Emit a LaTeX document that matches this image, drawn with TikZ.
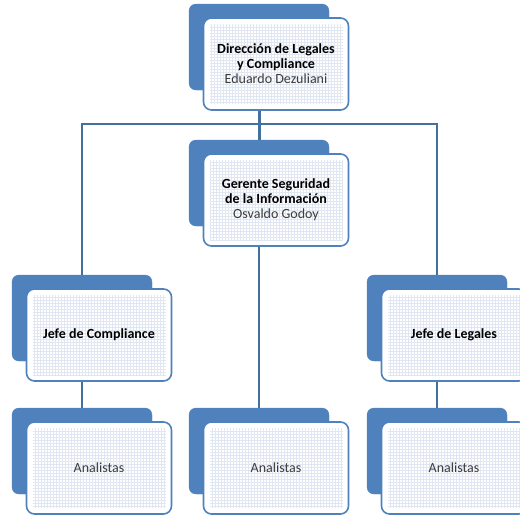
\documentclass[tikz,border=0pt]{standalone}
\usepackage{fontspec}
\setmainfont{Carlito}
\usepackage{tikz}

\definecolor{boxblue}{RGB}{79,129,189}
\definecolor{linkblue}{RGB}{65,113,156}
\definecolor{gridblue}{RGB}{224,231,242}
\definecolor{nametext}{RGB}{60,60,60}

\begin{document}
\begin{tikzpicture}[x=1pt, y=-1pt,
    back/.style={fill=boxblue, draw=boxblue, rounded corners=7pt, minimum width=140pt, minimum height=86pt, inner sep=0pt},
    front/.style={fill=white, draw=boxblue, line width=1.6pt, rounded corners=8pt, minimum width=145pt, minimum height=92pt,
      align=center, font=\fontsize{14}{15}\selectfont,
      path picture={\draw[gridblue, line width=0.35pt, step=3pt] ([shift={(6pt,6pt)}]path picture bounding box.south west) grid ([shift={(-6pt,-6pt)}]path picture bounding box.north east);}},
    link/.style={draw=linkblue, line width=2pt}]
  \useasboundingbox (0,0) rectangle (520,517);

  % boxes: blue card behind, gridded card in front
  \node[back] (dirB) at (259,47) {};
  \node[front] (dir) at (276,64) {\textbf{Dirección de Legales}\\ \textbf{y Compliance}\\ {\color{nametext}Eduardo Dezuliani}};

  \node[back] (gerB) at (259,183) {};
  \node[front] (ger) at (276,200) {\textbf{Gerente Seguridad}\\ \textbf{de la Información}\\ {\color{nametext}Osvaldo Godoy}};

  \node[back] (jcB) at (82,318) {};
  \node[front] (jc) at (99,335) {\textbf{Jefe de Compliance}};

  \node[back] (jlB) at (437,318) {};
  \node[front] (jl) at (454,335) {\textbf{Jefe de Legales}};

  \node[back] (alB) at (82,451) {};
  \node[front] (al) at (99,468) {{\color{nametext}Analistas}};

  \node[back] (amB) at (259,451) {};
  \node[front] (am) at (276,468) {{\color{nametext}Analistas}};

  \node[back] (arB) at (437,451) {};
  \node[front] (ar) at (454,468) {{\color{nametext}Analistas}};

  % connectors
  \coordinate (hub) at (259,124);
  \draw[link] (jcB.north) |- (hub) -| (jlB.north);
  \draw[link, line width=3pt] (dirB |- dir.south) -- (gerB.north);
  \draw[link] (gerB |- ger.south) -- (amB.north);
  \draw[link] (jcB |- jc.south) -- (alB.north);
  \draw[link] (jlB |- jl.south) -- (arB.north);
\end{tikzpicture}
\end{document}
